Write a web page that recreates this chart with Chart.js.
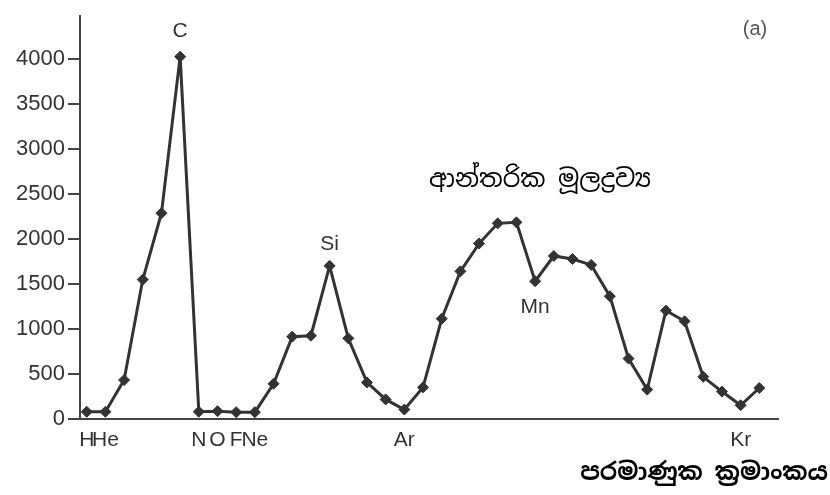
<!DOCTYPE html>
<html>
<head>
<meta charset="utf-8">
<script src="https://cdn.jsdelivr.net/npm/chart.js@4"></script>
<style>
  body { margin: 0; background: #fff; }
  #wrap { width: 830px; height: 495px; }
</style>
</head>
<body>
<div id="wrap"><canvas id="myChart" width="830" height="495"></canvas></div>
<script>
// elements 1..37 (H .. Rb)
const elements = ['H','He','Li','Be','B','C','N','O','F','Ne','Na','Mg','Al','Si','P','S','Cl','Ar','K','Ca',
  'Sc','Ti','V','Cr','Mn','Fe','Co','Ni','Cu','Zn','Ga','Ge','As','Se','Br','Kr','Rb'];
const meltingPoints = [80,80,433,1551,2289,4030,80,87,76,76,392,916,926,1704,897,407,218,105,352,1115,
  1642,1951,2176,2187,1533,1813,1780,1714,1366,672,327,1206,1087,469,305,153,345];
const shownLabels = ['H','He','N','O','F','Ne','Ar','Kr'];
const peakLabels = [
  { el: 'C', dy: -25 },
  { el: 'Si', dy: -22 },
  { el: 'Mn', dy: 26 }
];
const yTicks = [0, 500, 1000, 1500, 2000, 2500, 3000, 3500, 4000];
const groupTitle = 'ආන්තරික මූලද්‍රව්‍ය';
const xTitle = 'පරමාණුක ක්‍රමාංකය';
const panelTag = '(a)';

const points = meltingPoints.map((v, i) => ({ x: i + 1, y: v }));
const textGray = '#333';
const latin = '"Liberation Sans", Arial, sans-serif';
const sinhalaFont = "'Noto Sans Sinhala', 'Iskoola Pota', 'Noto Sans', sans-serif";

const labelsPlugin = {
  id: 'labels',
  afterDraw(chart) {
    const ctx = chart.ctx;
    const xs = chart.scales.x, ys = chart.scales.y;
    ctx.save();
    ctx.textAlign = 'center';
    ctx.textBaseline = 'middle';
    ctx.fillStyle = textGray;
    ctx.font = '21px ' + latin;
    peakLabels.forEach(p => {
      const i = elements.indexOf(p.el);
      ctx.fillText(p.el, xs.getPixelForValue(i + 1), ys.getPixelForValue(meltingPoints[i]) + p.dy);
    });
    ctx.font = '20px ' + latin;
    ctx.fillStyle = '#555';
    ctx.fillText(panelTag, 755, 29);
    ctx.fillStyle = '#000';
    ctx.font = '25px ' + sinhalaFont;
    ctx.fillText(groupTitle, 540, 180);
    ctx.font = 'bold 24px ' + sinhalaFont;
    ctx.textAlign = 'right';
    ctx.fillText(xTitle, 828, 473);
    ctx.restore();
  }
};

const ctx = document.getElementById('myChart').getContext('2d');
const myChart = new Chart(ctx, {
  type: 'line',
  data: {
    datasets: [{
      data: points,
      borderColor: '#333',
      borderWidth: 3,
      backgroundColor: '#333',
      pointStyle: 'rectRot',
      pointRadius: 5.5,
      pointBorderWidth: 1,
      pointBorderColor: '#333',
      tension: 0
    }]
  },
  options: {
    responsive: false,
    animation: false,
    layout: { padding: { top: 8, right: 52, left: 0, bottom: 0 } },
    plugins: { legend: { display: false }, tooltip: { enabled: false } },
    scales: {
      x: {
        type: 'linear',
        min: 0.64,
        max: 38.0,
        afterFit: (scale) => { scale.height = 76; },
        grid: { drawOnChartArea: false, drawTicks: false },
        border: { display: true, color: '#444', width: 2 },
        ticks: {
          stepSize: 1,
          autoSkip: false,
          maxRotation: 0,
          includeBounds: false,
          padding: 9,
          color: textGray,
          font: { size: 21, family: latin },
          callback: (v) => {
            const s = elements[v - 1];
            return shownLabels.includes(s) ? s : '';
          }
        }
      },
      y: {
        min: 0,
        max: 4480,
        afterFit: (scale) => { scale.width = 80; },
        afterBuildTicks: (scale) => { scale.ticks = yTicks.map(v => ({ value: v })); },
        grid: { drawOnChartArea: false, tickLength: 12, color: '#444', lineWidth: 2 },
        border: { display: true, color: '#444', width: 2 },
        ticks: {
          padding: 3,
          color: textGray,
          font: { size: 22, family: latin },
          callback: (v) => String(v)
        }
      }
    }
  },
  plugins: [labelsPlugin]
});
</script>
</body>
</html>
